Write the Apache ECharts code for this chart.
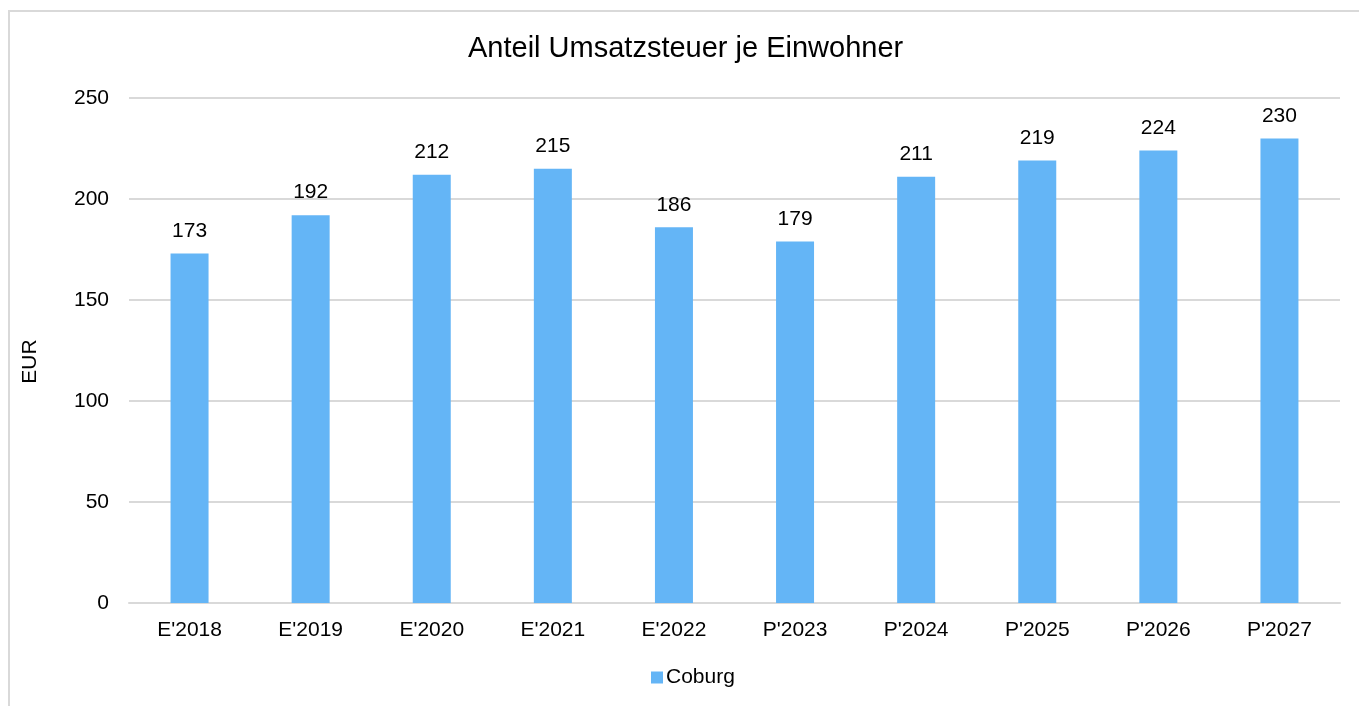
<!DOCTYPE html>
<html>
<head>
<meta charset="utf-8">
<title>Anteil Umsatzsteuer je Einwohner</title>
<script src="https://cdn.jsdelivr.net/npm/echarts@6/dist/echarts.min.js"></script>
<style>
  html, body { margin: 0; padding: 0; background: #fff; overflow: hidden; }
  #chart { width: 1359px; height: 706px; }
</style>
</head>
<body>
<div id="chart"></div>
<script>
// Werte
const years = ["E'2018", "E'2019", "E'2020", "E'2021", "E'2022", "P'2023", "P'2024", "P'2025", "P'2026", "P'2027"];
const coburg = [173, 192, 212, 215, 186, 179, 211, 219, 224, 230];
const yTicks = { min: 0, max: 250, interval: 50 };

const FONT = "Liberation Sans, Arial, sans-serif";
const BAR_COLOR = "#64b5f6";
const GRID_COLOR = "#d9d9d9";
const FS = 21;

const myChart = echarts.init(document.getElementById("chart"));

const option = {
  animation: false,
  textStyle: { fontFamily: FONT, color: "#000" },
  graphic: [
    {
      // Rahmen des Diagrammbereichs (links/oben sichtbar)
      type: "rect",
      z: -1,
      shape: { x: 9, y: 11, width: 1400, height: 800 },
      style: { fill: "none", stroke: GRID_COLOR, lineWidth: 2 },
    },
  ],
  title: {
    text: "Anteil Umsatzsteuer je Einwohner",
    left: 468,
    top: 34,
    padding: 0,
    textStyle: { fontFamily: FONT, fontSize: 29, fontWeight: "normal", color: "#000" },
  },
  legend: {
    data: ["Coburg"],
    left: 651,
    top: 667,
    padding: 0,
    itemWidth: 12,
    itemHeight: 12,
    itemGap: 4,
    icon: "rect",
    textStyle: { fontFamily: FONT, fontSize: FS, color: "#000", padding: [0, 0, 0, -2] },
  },
  grid: {
    left: 129,
    right: 19,
    top: 98,
    bottom: 103,
    containLabel: false,
  },
  xAxis: {
    type: "category",
    data: years,
    axisLine: { lineStyle: { color: GRID_COLOR, width: 2 } },
    axisTick: { show: false },
    axisLabel: { fontFamily: FONT, fontSize: FS, color: "#000", margin: 17 },
  },
  yAxis: {
    type: "value",
    min: yTicks.min,
    max: yTicks.max,
    interval: yTicks.interval,
    name: "EUR",
    nameLocation: "middle",
    nameGap: 88,
    nameTextStyle: { fontFamily: FONT, fontSize: FS, color: "#000", padding: [0, 22, 0, 0] },
    axisLine: { show: false },
    axisTick: { show: false },
    axisLabel: { fontFamily: FONT, fontSize: FS, color: "#000", margin: 20 },
    splitLine: { lineStyle: { color: GRID_COLOR, width: 2 } },
  },
  series: [
    {
      name: "Coburg",
      type: "bar",
      data: coburg,
      barWidth: 38,
      itemStyle: { color: BAR_COLOR },
      label: {
        show: true,
        position: "top",
        distance: 12,
        fontFamily: FONT,
        fontSize: FS,
        color: "#000",
      },
    },
  ],
};

myChart.setOption(option);
window.addEventListener("resize", myChart.resize);
</script>
</body>
</html>
